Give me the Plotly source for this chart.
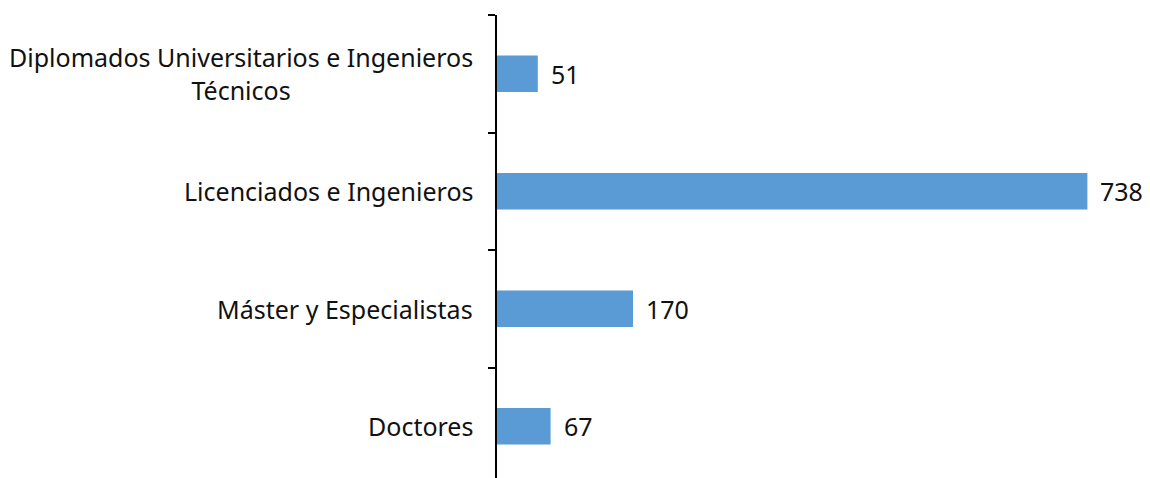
import plotly.graph_objects as go

# categories listed bottom-to-top (plotly draws the first category at the bottom)
categories = [
    "Doctores",
    "Máster y Especialistas",
    "Licenciados e Ingenieros",
    "Diplomados Universitarios e Ingenieros<br>Técnicos",
]
values = [67, 170, 738, 51]

BAR_COLOR = "#5B9BD5"
TEXT_COLOR = "#111111"
FONT = "Noto Sans, Open Sans, sans-serif"
FONT_SIZE = 25

fig = go.Figure()

fig.add_trace(go.Bar(
    x=values, y=categories, orientation="h",
    marker=dict(color=BAR_COLOR, line=dict(width=0)),
    width=0.31,
    hoverinfo="x+y", showlegend=False,
))

# category labels as annotations so the wrapped one stays centred
label_ann = [
    dict(
        x=0, xref="paper", y=c, yref="y",
        text=c, showarrow=False,
        xanchor="right", yanchor="middle", align="center",
        xshift=-22,
        font=dict(size=FONT_SIZE, color=TEXT_COLOR, family=FONT),
    )
    for c in categories
]

# value labels just past the bar ends
value_ann = [
    dict(
        x=v, y=c, text=str(v), showarrow=False,
        xanchor="left", yanchor="middle", xshift=11,
        font=dict(size=FONT_SIZE, color=TEXT_COLOR, family=FONT),
    )
    for c, v in zip(categories, values)
]

# page body has an ~8px margin, so the figure is sized to fit the window
fig.update_layout(
    width=1142, height=470,
    margin=dict(l=489, r=13, t=7, b=0),
    plot_bgcolor="white", paper_bgcolor="white",
    font=dict(family=FONT, size=FONT_SIZE, color=TEXT_COLOR),
    bargap=0.69,
    xaxis=dict(range=[0, 800], visible=False),
    yaxis=dict(
        type="category",
        range=[-0.44, 3.5],
        showticklabels=False,
        showline=True, linecolor="black", linewidth=1.6,
        ticks="outside", ticklen=7, tickwidth=1.6, tickcolor="black",
        tickson="boundaries",
        showgrid=False, zeroline=False,
    ),
    annotations=label_ann + value_ann,
)

fig.write_html("out.html")
